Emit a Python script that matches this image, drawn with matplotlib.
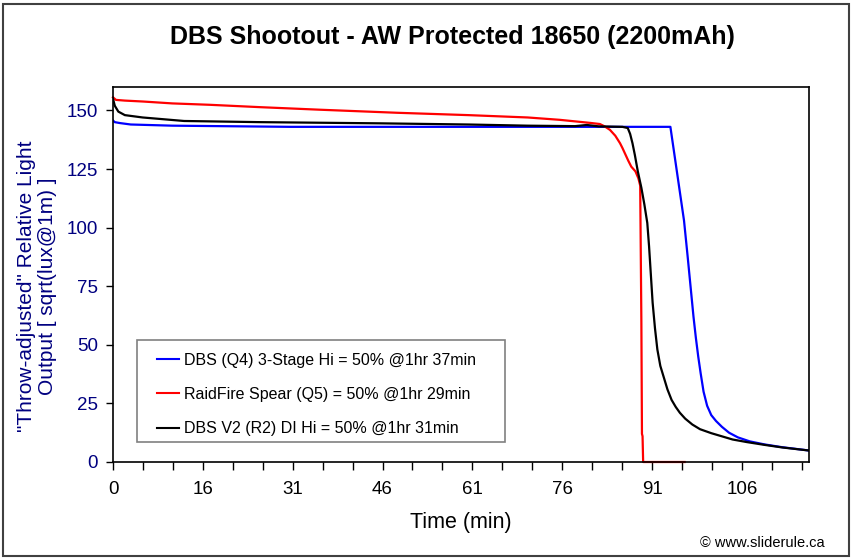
import numpy as np
import matplotlib.pyplot as plt
from matplotlib.patches import Rectangle

plt.rcParams['font.family'] = ['Liberation Sans', 'DejaVu Sans']

# DBS (Q4) 3-Stage Hi
blue_t = [0, 0.3, 1.2, 3, 10, 30, 60, 94.1, 96.4, 97.0, 97.5, 98.0, 98.4, 98.8,
          99.2, 99.7, 100.3, 101.0, 101.8, 102.8, 104.0, 105.5, 107.5, 110,
          113, 117.5]
blue_y = [145.7, 145, 144.6, 144, 143.5, 143, 143, 143, 103, 88, 75, 62, 53, 45,
          38, 30, 24, 20, 17.5, 15, 12.5, 10.5, 8.8, 7.5, 6.3, 4.9]

# RaidFire Spear (Q5)
red_t = [0, 0.5, 2, 5.1, 10, 16.4, 24.8, 35, 48, 60, 70, 75.4, 80.5, 82.2, 83.0,
         83.9, 84.8, 85.6, 86.0, 86.4, 87, 87.5, 88.2, 88.7, 89.0, 89.2, 89.3,
         89.4, 89.5, 96.5]
red_y = [155.6, 154.5, 154.2, 153.8, 153, 152.4, 151.4, 150.3, 149, 148, 147,
         146, 144.7, 144.2, 143.2, 141.7, 139.2, 136, 134, 131.8, 128.5, 126,
         124, 121, 118, 60, 12, 11, 0, 0]

# DBS V2 (R2) DI Hi
black_t = [0, 0.3, 0.9, 2, 5, 12, 25, 45, 60, 70, 78, 80, 82, 86.0, 86.9, 87.3,
           87.7, 88.1, 88.6, 89.2, 89.7, 90.2, 90.5, 90.8, 91.1, 91.5, 91.9,
           92.4, 93.0, 93.6, 94.3, 95.0, 95.7, 96.6, 97.8, 99.1, 101, 103,
           104.6, 107, 110, 113, 117.5]
black_y = [155, 152, 149.5, 148, 147, 145.5, 145, 144.5, 144, 143.5, 143.3,
           143.8, 143.2, 143, 142.5, 140, 136, 131, 124, 117, 110, 102, 92, 80,
           68, 57, 48, 41, 36, 31, 26.5, 23.5, 21, 18.5, 16, 14, 12.3, 10.8,
           9.6, 8.5, 7.3, 6.2, 4.9]

labels = ['DBS (Q4) 3-Stage Hi = 50% @1hr 37min',
          'RaidFire Spear (Q5) = 50% @1hr 29min',
          'DBS V2 (R2) DI Hi = 50% @1hr 31min']
xtick_labels = ['0', '16', '31', '46', '61', '76', '91', '106']
yticks = [0, 25, 50, 75, 100, 125, 150]

navy = '#000080'
W, H = 855, 560
fig = plt.figure(figsize=(W / 100, H / 100), dpi=100)
ax = fig.add_axes([113 / W, 1 - 462 / H, (809 - 113) / W, (462 - 87) / H])

ax.plot(blue_t, blue_y, color='#0000ff', lw=1.6, label=labels[0])
ax.plot(red_t, red_y, color='#ff0000', lw=1.6, label=labels[1], clip_on=False)
ax.plot(black_t, black_y, color='black', lw=1.6, label=labels[2])

step = 91 / 6
ax.set_xlim(0, 117.5)
ax.set_ylim(0, 160)
ax.set_xticks([step * i for i in range(len(xtick_labels))])
ax.set_xticklabels(xtick_labels)
ax.set_xticks(np.arange(0, 117.5, step / 3), minor=True)
ax.set_yticks(yticks)
ax.tick_params(axis='x', which='both', direction='out', length=6, width=1,
               labelsize=13.5, pad=8)
ax.tick_params(axis='y', direction='out', length=5, width=1,
               labelsize=13.5, labelcolor=navy, pad=6)
for s in ax.spines.values():
    s.set_linewidth(1.2)

ax.set_xlabel('Time (min)', fontsize=15.5)
ax.xaxis.set_label_coords(0.4993, -0.133)
ax.set_ylabel('"Throw-adjusted" Relative Light\nOutput [ sqrt(lux@1m) ]',
              fontsize=15, color=navy, linespacing=1.15)
ax.yaxis.set_label_coords(-0.080, 0.469)

fig.text(0.5 + 25 / W, 1 - 37 / H, 'DBS Shootout - AW Protected 18650 (2200mAh)',
         ha='center', va='center', fontsize=18, fontweight='bold')

# legend box drawn separately so the padding can match
ax.add_patch(Rectangle((24 / 696, 20 / 375), 368 / 696, 102 / 375,
                       transform=ax.transAxes, fill=False,
                       edgecolor='#808080', lw=1.2, zorder=4))
leg = ax.legend(loc='upper left', bbox_to_anchor=(44 / 696, (462 - 352.5) / 375),
                fontsize=11.5, frameon=False, handlelength=1.375,
                handletextpad=0.3, labelspacing=1.22, borderpad=0,
                borderaxespad=0)
for h in leg.legend_handles:
    h.set_linewidth(1.5)

fig.text(825 / W, 1 - 543 / H, '\u00a9 www.sliderule.ca', ha='right',
         va='center', fontsize=10.5)

fig.patches.append(Rectangle((3 / W, 4 / H), 846 / W, 552 / H,
                             transform=fig.transFigure, fill=False,
                             edgecolor='#404040', lw=1.5))

fig.savefig('out.png', dpi=100)
